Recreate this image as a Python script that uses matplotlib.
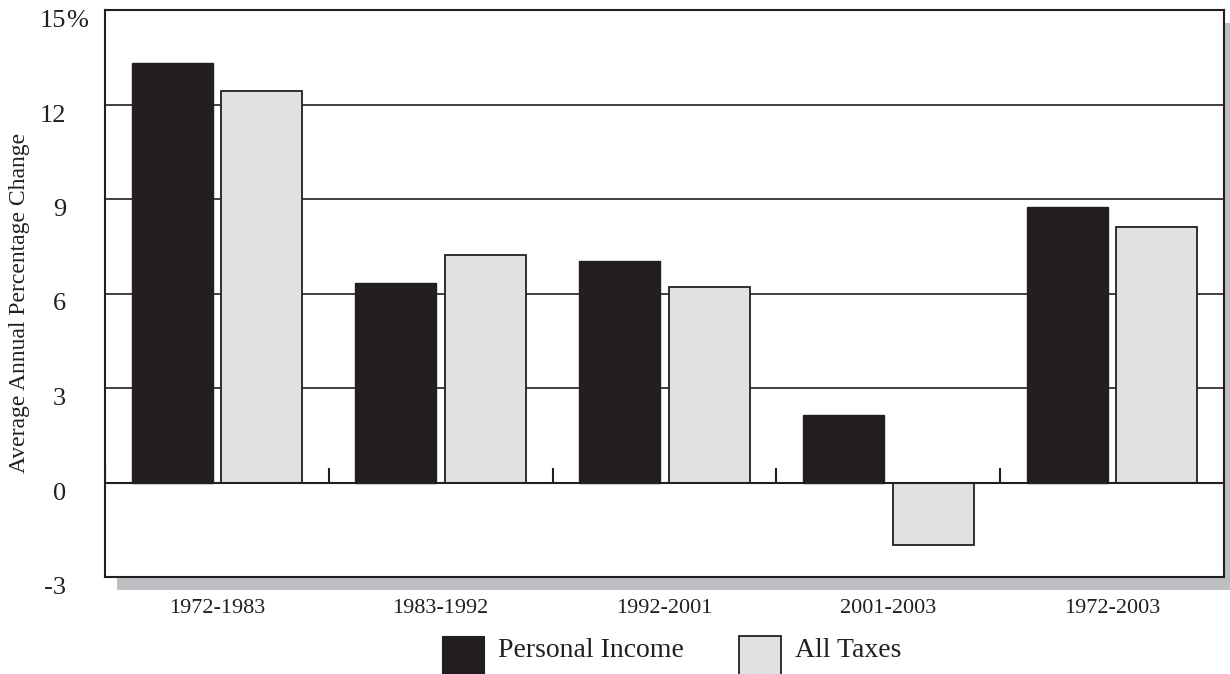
import matplotlib
matplotlib.use("Agg")
import matplotlib.pyplot as plt
import numpy as np
from matplotlib.patches import Rectangle, Patch
from matplotlib.legend_handler import HandlerPatch
from matplotlib.transforms import blended_transform_factory, ScaledTranslation

# Average annual percentage change by period
periods = ["1972-1983", "1983-1992", "1992-2001", "2001-2003", "1972-2003"]
personal_income = [13.33, 6.33, 7.03, 2.13, 8.75]
all_taxes = [12.44, 7.22, 6.2, -1.97, 8.11]

y_ticks = [-3, 0, 3, 6, 9, 12, 15]
y_tick_labels = ["-3", "0", "3", "6", "9", "12", "15"]

DARK = "#231f20"
LIGHT = "#e0e1e3"
SHADOW = "#bebfc2"

plt.rcParams["font.family"] = ["Liberation Serif", "DejaVu Serif"]

W, H = 1230, 674
fig = plt.figure(figsize=(W / 100, H / 100), dpi=100)
left, right, top, bottom = 105, 1224, 10, 577
ax = fig.add_axes([left / W, 1 - bottom / H, (right - left) / W, (bottom - top) / H])

# drop shadow behind the plot frame
sx, sy = 12, 13
fig.patches.append(Rectangle(((left + sx) / W, 1 - (bottom + sy) / H),
                             (right - left) / W, (bottom - top) / H,
                             transform=fig.transFigure, facecolor=SHADOW,
                             edgecolor="none", zorder=0))
ax.set_zorder(1)

x = np.arange(len(periods))
w = 0.362
off = 0.2
ax.bar(x - off, personal_income, w, color=DARK, edgecolor=DARK, linewidth=1.0, zorder=3)
ax.bar(x + off, all_taxes, w, color=LIGHT, edgecolor=DARK, linewidth=1.3, zorder=3)

ax.set_xlim(-0.5, len(periods) - 0.5)
ax.set_ylim(-3, 15)

# horizontal rules
for yv in y_ticks[2:-1]:
    ax.axhline(yv, color=DARK, lw=1.2, zorder=1)
ax.axhline(0, color=DARK, lw=1.5, zorder=4)

# short separators between period groups on the zero line
bounds = np.arange(len(periods) + 1) - 0.5
ax.vlines(bounds, 0, 0.45, color=DARK, lw=1.5, zorder=4)

for s in ax.spines.values():
    s.set_color(DARK)
    s.set_linewidth(1.5)

ax.set_xticks(x)
ax.set_xticklabels(periods, fontsize=16, color=DARK)
ax.tick_params(axis="x", length=0, pad=15.8)

ax.set_yticks(y_ticks)
ax.set_yticklabels([])
ax.tick_params(axis="y", length=0)
tr = blended_transform_factory(fig.transFigure, ax.transData) + \
    ScaledTranslation(0, -17 / 100, fig.dpi_scale_trans)
for yv, lab in zip(y_ticks, y_tick_labels):
    ax.text(66 / W, yv, lab, transform=tr, ha="right", va="baseline",
            fontsize=19, color=DARK, clip_on=False)
ax.text(66 / W, y_ticks[-1], "%", transform=tr, ha="left", va="baseline",
        fontsize=19, color=DARK, clip_on=False)

fig.text(20 / W, 1 - 303 / H, "Average Annual Percentage Change", rotation=90,
         ha="center", va="center", fontsize=17, color=DARK)


def tall_box(legend, orig_handle, xdescent, ydescent, width, height, fontsize):
    # swatch starts level with the capitals and runs down past the text
    return Rectangle((-xdescent, -ydescent - 40), width, height - 3.4 + 40)


handles = [Patch(facecolor=DARK, edgecolor=DARK, linewidth=0.8),
           Patch(facecolor=LIGHT, edgecolor=DARK, linewidth=1.3)]
fig.legend(handles, ["Personal Income", "All Taxes"], loc="upper left",
           bbox_to_anchor=(442 / W, 1 - 631 / H), ncol=2, frameon=False,
           fontsize=20, handlelength=1.5, handleheight=1.5,
           handletextpad=0.5, columnspacing=2.0, borderpad=0.0,
           borderaxespad=0.0, labelcolor=DARK,
           handler_map={Patch: HandlerPatch(patch_func=tall_box)})

fig.savefig("out.png", dpi=100)
